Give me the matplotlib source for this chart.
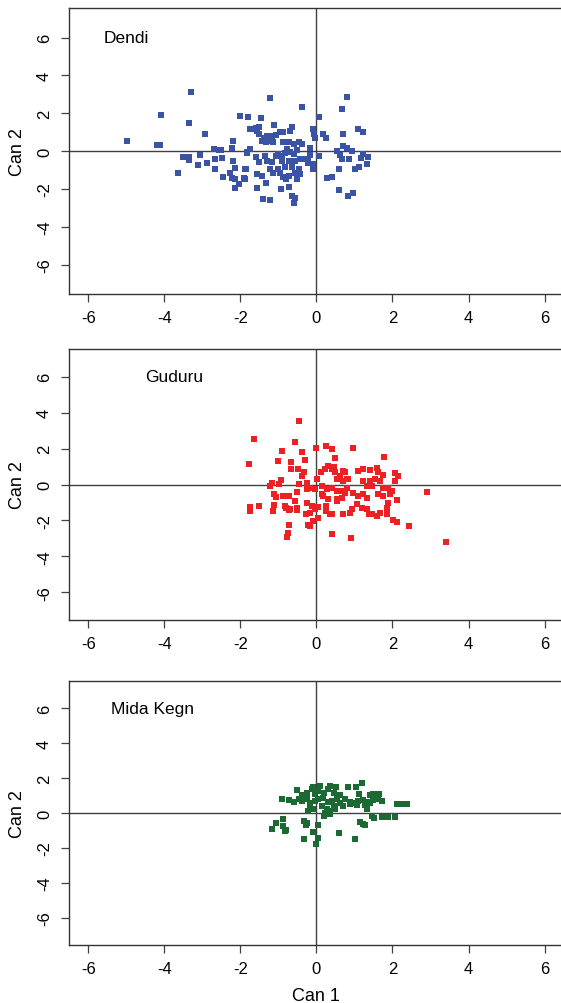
import numpy as np
import matplotlib.pyplot as plt

plt.rcParams['font.family'] = ['Liberation Sans', 'DejaVu Sans']
plt.rcParams['axes.unicode_minus'] = False


## data


# Dendi: (Can 1, Can 2)
dendi = [
	(-3.30, 3.10), (-4.08, 1.92), (-3.36, 1.51), (-2.00, 1.85), (-1.81, 1.83), (-2.94, 0.88),
	(-4.99, 0.55), (-4.19, 0.32), (-4.12, 0.35), (-2.19, 0.53), (-2.22, 0.16), (-2.70, 0.09),
	(-2.57, 0.07), (-2.51, 0.07), (-3.51, -0.30), (-3.36, -0.32), (-3.36, -0.49), (-3.05, -0.18),
	(-3.12, -0.72), (-2.88, -0.65), (-2.66, -0.41), (-2.48, -0.37), (-2.67, -0.95), (-3.63, -1.18),
	(-2.19, -0.54), (-2.13, -0.88), (-1.86, -0.93), (-2.28, -1.18), (-2.22, -1.43), (-2.46, -1.36),
	(-2.13, -1.48), (-2.04, -1.76), (-2.15, -1.95), (-1.89, -1.46), (-1.83, -0.07), (-1.74, 1.16),
	(-1.22, 2.82), (-0.38, 2.34), (0.80, 2.84), (0.67, 2.25), (0.06, 1.83), (-1.46, 1.74),
	(-1.11, 1.39), (-1.65, 1.16), (-1.52, 1.28), (-1.56, 1.07), (-0.65, 1.28), (-0.69, 1.04),
	(-0.09, 1.16), (-0.06, 0.90), (0.16, 0.90), (0.25, 0.67), (-0.03, 0.67), (0.71, 0.93),
	(1.10, 1.16), (1.22, 0.99), (0.71, 0.28), (0.80, 0.19), (0.94, 0.02), (0.54, 0.02),
	(0.62, -0.21), (0.67, -0.42), (0.86, -0.42), (1.23, -0.16), (1.36, -0.30), (1.17, -0.35),
	(1.32, -0.70), (1.13, -0.83), (1.02, -0.95), (0.60, -0.95), (0.41, -1.36), (0.29, -1.44),
	(0.60, -2.06), (0.97, -2.23), (0.84, -2.36), (0.06, -0.25), (-0.09, -0.69), (-0.09, -0.95),
	(-0.17, 0.19), (-0.21, -0.42),
	(-1.70, 1.16), (-1.58, 1.20), (-1.50, 0.90), (-1.39, 0.67), (-1.29, 0.81), (-1.17, 0.78),
	(-1.06, 0.85), (-0.95, 0.99), (-0.88, 1.02), (-1.22, 0.55), (-1.13, 0.46), (-1.32, 0.46),
	(-1.43, 0.55), (-0.87, 0.46), (-0.73, 0.49), (-0.60, 0.37), (-0.47, 0.46), (-0.38, 0.37),
	(-1.76, 0.11), (-1.83, -0.11), (-1.58, -0.33), (-1.52, -0.56), (-1.35, -0.28), (-1.29, -0.51),
	(-1.17, -0.56), (-1.06, -0.28), (-1.00, -0.16), (-0.91, -0.28), (-0.82, -0.11), (-0.78, 0.11),
	(-0.69, -0.07), (-0.60, -0.16), (-0.52, 0.07), (-0.43, -0.42), (-0.30, -0.39), (-0.17, -0.21),
	(-0.71, -0.51), (-0.56, -0.51), (-0.91, -0.51), (-1.87, -0.95), (-1.90, -1.44), (-1.57, -1.22),
	(-1.43, -1.30), (-1.22, -0.95), (-1.13, -1.13), (-0.95, -1.18), (-0.87, -1.39), (-0.71, -1.30),
	(-0.56, -1.16), (-0.47, -0.95), (-0.43, -1.22), (-0.65, -0.86), (-0.82, -0.86), (-1.00, -0.95),
	(-0.21, -0.60), (-1.57, -1.95), (-1.32, -1.69), (-0.93, -2.01), (-0.71, -1.92), (-0.65, -2.39),
	(-0.56, -2.50), (-0.58, -2.75), (-1.41, -2.54), (-1.23, -2.57), (-0.80, -1.48), (-0.52, -1.48),
]

# Guduru
guduru = [
	(-0.45, 3.56), (-1.64, 2.53), (-0.57, 2.38), (0.00, 2.06), (0.26, 2.12), (0.40, 1.97),
	(-0.91, 1.84), (-0.38, 1.80), (-1.78, 1.12), (-1.02, 1.33), (-0.67, 1.24), (-0.31, 1.37),
	(0.50, 1.46), (-0.66, 0.86), (-0.49, 0.86), (-0.34, 0.67), (-1.17, 0.11), (-0.92, 0.26),
	(-0.98, 0.02), (-1.22, -0.11), (-0.47, 0.02), (-0.24, 0.11), (-0.38, 0.45), (0.01, 0.30),
	(-1.11, -0.55), (-1.06, -0.70), (-0.87, -0.66), (-0.73, -0.66), (-0.50, -0.41), (-1.74, -1.24),
	(-1.74, -1.48), (-1.52, -1.20), (-1.11, -1.16), (-1.13, -1.48), (-0.82, -1.21), (-0.73, -1.40),
	(-0.50, -1.40), (-0.71, -2.23), (-0.76, -2.70), (-0.78, -2.92), (0.40, -2.76), (0.69, -1.63),
	(-0.56, -0.92), (-0.51, -1.29), (-0.25, -1.01), (-0.12, -1.20), (-0.17, -1.58), (-0.27, -1.67),
	(-0.03, -1.39), (0.05, -1.24), (0.26, -1.20), (0.26, -1.48), (0.36, -1.67), (0.05, -1.86),
	(-0.08, -2.05), (-0.17, -2.29), (-0.21, -2.23), (-0.25, -0.26), (-0.17, -0.17), (-0.80, -1.29),
	(-0.69, -1.39),
	(0.12, 0.67), (0.23, 0.86), (0.31, 1.05), (0.40, 0.86), (0.49, 0.67), (0.62, 0.48),
	(0.71, 0.77), (0.80, 0.30), (0.55, 0.30), (0.14, -0.08), (0.27, -0.26), (0.40, -0.17),
	(0.53, -0.36), (0.66, -0.36), (0.80, -0.17), (0.18, -0.64), (0.31, -0.83), (0.53, -0.83),
	(0.66, -0.73), (0.14, -0.55), (-0.03, -0.26),
	(0.41, 1.99), (0.96, 2.02), (1.78, 1.54), (1.10, 0.77), (1.23, 0.86), (1.41, 0.81),
	(1.58, 0.90), (1.63, 0.67), (1.76, 0.52), (2.07, 0.64), (2.15, 0.45), (2.07, 0.20),
	(0.75, 0.67), (0.45, 0.95), (0.84, 0.30), (0.71, 0.20), (1.23, 0.20), (1.41, 0.20),
	(1.54, 0.30), (1.67, 0.20), (1.32, -0.08), (1.45, -0.11), (1.76, -0.17), (1.89, -0.17),
	(1.98, -0.36), (2.90, -0.41), (0.53, -0.36), (0.75, -0.49), (0.97, -0.45), (1.10, -0.64),
	(1.23, -0.55), (1.32, -0.73), (1.63, -0.55), (1.76, -0.64), (1.93, -0.55), (2.11, -0.86),
	(0.53, -0.92), (0.40, -1.67), (0.71, -1.67), (0.88, -1.58), (0.93, -1.39), (1.06, -1.11),
	(1.19, -1.29), (1.32, -1.39), (1.37, -1.67), (1.45, -1.67), (1.59, -1.76), (1.67, -1.58),
	(1.85, -1.29), (1.89, -1.01), (1.86, -1.67), (2.02, -1.99), (2.11, -2.10), (2.44, -2.29),
	(0.90, -2.98), (3.40, -3.23),
]

# Mida Kegn
mida = [
	(1.20, 1.70), (0.84, 1.49), (1.03, 1.49), (0.52, 1.49), (0.36, 1.54), (0.31, 1.39),
	(0.10, 1.54), (-0.10, 1.49), (-0.12, 1.35), (-0.51, 1.31), (1.13, 1.11), (1.50, 1.11),
	(1.65, 1.07), (-0.91, 0.78), (-0.73, 0.74), (-0.60, 0.65), (-0.47, 0.82), (-0.38, 0.69),
	(-0.25, 0.78), (-0.17, 0.59), (-0.03, 0.69), (0.05, 0.78), (0.18, 0.88), (0.31, 0.63),
	(0.40, 0.69), (0.54, 0.78), (0.62, 0.59), (0.75, 0.78), (0.88, 0.65), (1.02, 0.59),
	(1.10, 0.69), (1.22, 0.74), (1.32, 0.61), (1.41, 0.59), (1.50, 0.72), (1.63, 0.78),
	(1.72, 0.69), (1.41, 1.01), (1.59, 0.88), (-0.17, 0.31), (-0.21, 0.12), (-0.08, 0.21),
	(0.14, 0.40), (0.27, 0.21), (0.36, 0.12), (0.49, 0.21), (0.45, 0.40), (0.23, 0.02),
	(-0.03, 1.07), (0.05, 1.26), (0.21, 1.17), (0.45, 1.17), (0.62, 1.01), (-0.25, 1.17),
	(-0.38, 1.01), (0.88, 0.50), (0.70, 0.40), (2.11, 0.50), (2.27, 0.50), (2.37, 0.50),
	(1.06, 0.44), (1.28, 0.44), (1.32, 0.25), (0.20, -0.17), (0.36, -0.04), (1.45, -0.17),
	(1.51, -0.26), (1.72, -0.22), (1.89, -0.22), (2.07, -0.22), (1.15, -0.51), (1.22, -0.65),
	(1.28, -0.70), (-0.88, -0.36), (-1.07, -0.59), (-1.17, -0.89), (-0.87, -0.74), (-0.80, -0.99),
	(-0.84, -1.03), (-0.32, -0.47), (-0.24, -0.59), (-0.27, -0.70), (0.05, -0.70), (-0.08, -1.09),
	(0.05, -1.41), (-0.01, -1.79), (-0.32, -1.50), (0.60, -1.12), (1.02, -1.46),
]

panels = ['Dendi', 'Guduru', 'Mida Kegn']
panel_data = [dendi, guduru, mida]
colors = ['#3A53A5', '#ED2024', '#1B6A34']
label_x = [-5.6, -4.5, -5.4]
ticks = [-6, -4, -2, 0, 2, 4, 6]


## plot


fig = plt.figure(figsize=(5.61, 10.04), dpi=100)

# axes boxes in figure pixels (top, bottom); right edge runs a little past the figure
boxes = [(9.3, 295.0), (350.0, 621.0), (682.0, 946.0)]
left_px, right_px = 69.3, 563.6

for name, pts, col, lx, (top, bot) in zip(panels, panel_data, colors, label_x, boxes):
	ax = fig.add_axes([left_px/561, 1 - bot/1004, (right_px - left_px)/561, (bot - top)/1004])
	pts = np.array(pts)

	ax.axhline(0, color='#404040', lw=1.0, zorder=1)
	ax.axvline(0, color='#404040', lw=1.0, zorder=1)
	ax.plot(pts[:, 0], pts[:, 1], 's', color=col, ms=4.8, mew=0, zorder=2)

	ax.set_xlim(-6.5, 6.5)
	ax.set_ylim(-7.55, 7.55)
	ax.set_xticks(ticks)
	ax.set_yticks(ticks)
	ax.tick_params(direction='out', length=5.5, width=0.9, color='#404040', labelsize=12, pad=6)
	ax.tick_params(axis='y', labelrotation=90, pad=7)
	for lab in ax.get_yticklabels():
		lab.set_va('center')
	for side in ['left', 'bottom', 'top', 'right']:
		ax.spines[side].set_color('#333333')
		ax.spines[side].set_linewidth(1.0)

	ax.text(lx, 6, name, fontsize=12.5, ha='left', va='center')

	# y label centred on the panel
	fig.text(17/561, 1 - (top + bot)/2/1004, 'Can 2', rotation=90, ha='center', va='center', fontsize=13)

fig.text(316/561, 1 - 997/1004, 'Can 1', ha='center', va='center', fontsize=13)

fig.savefig('out.png', dpi=100, facecolor='white')
